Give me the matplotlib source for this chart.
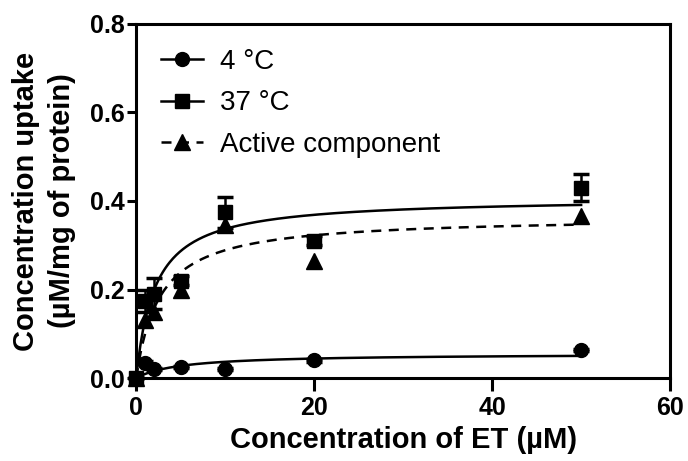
import matplotlib
matplotlib.use("Agg")
import matplotlib.pyplot as plt
import numpy as np

plt.rcParams['font.family'] = ['Liberation Sans', 'DejaVu Sans']

# measured points
conc = [0, 1, 2, 5, 10, 20, 50]
uptake_4 = [0.0, 0.035, 0.02, 0.025, 0.02, 0.04, 0.063]
err_4 = [0.0, 0.004, 0.003, 0.003, 0.003, 0.003, 0.003]
uptake_37 = [0.0, 0.175, 0.19, 0.22, 0.375, 0.31, 0.43]
err_37 = [0.0, 0.025, 0.035, 0.01, 0.035, 0.01, 0.03]
uptake_act = [0.0, 0.13, 0.15, 0.20, 0.345, 0.265, 0.367]

# fitted Michaelis-Menten parameters (Vmax, Km)
fit_4 = (0.055, 5.0)
fit_37 = (0.4075, 2.1)
fit_act = (0.365, 2.64)


def mm(x, p):
    return p[0] * x / (p[1] + x)


xs = np.linspace(0, 50, 400)

fig = plt.figure(figsize=(6.88, 4.61), dpi=100)
ax = fig.add_axes([0.198, 0.18, 0.776, 0.768])

ax.plot(xs, mm(xs, fit_4), 'k-', lw=1.8)
ax.plot(xs, mm(xs, fit_37), 'k-', lw=1.8)
ax.plot(xs, mm(xs, fit_act), 'k--', lw=1.8, dashes=(4, 3))

ax.errorbar(conc, uptake_4, yerr=err_4, fmt='o', color='k', ms=10,
            capsize=6, elinewidth=1.8, capthick=2.5, clip_on=False, zorder=4)
ax.errorbar(conc, uptake_37, yerr=err_37, fmt='s', color='k', ms=10,
            capsize=6, elinewidth=1.8, capthick=2.5, clip_on=False, zorder=4)
ax.plot(conc, uptake_act, '^', color='k', ms=11, clip_on=False, zorder=4)

# legend handles
h1, = ax.plot([], [], 'k-o', lw=1.8, ms=10)
h2, = ax.plot([], [], 'k-s', lw=1.8, ms=10)
h3, = ax.plot([], [], 'k--^', lw=1.8, ms=11, dashes=(4, 3))
ax.legend([h1, h2, h3], ['4 °C', '37 °C', 'Active component'],
          loc='upper left', frameon=False, fontsize=20, handlelength=1.5,
          labelspacing=0.55, borderaxespad=0.5, handletextpad=0.6)

ax.set_xlim(0, 60)
ax.set_ylim(0, 0.8)
ax.set_xticks([0, 20, 40, 60])
ax.set_yticks([0.0, 0.2, 0.4, 0.6, 0.8])
ax.set_yticklabels(['0.0', '0.2', '0.4', '0.6', '0.8'])

for s in ax.spines.values():
    s.set_linewidth(2.2)
ax.tick_params(axis='x', length=9, width=2.2, pad=4, labelsize=18)
ax.tick_params(axis='y', length=6.5, width=2.2, pad=2, labelsize=18)
for lab in ax.get_xticklabels() + ax.get_yticklabels():
    lab.set_fontweight('bold')

ax.set_xlabel('Concentration of ET (µM)', fontsize=21, fontweight='bold', labelpad=4)
ax.set_ylabel('Concentration uptake\n(µM/mg of protein)', fontsize=21,
              fontweight='bold', linespacing=1.4)
ax.yaxis.set_label_coords(-0.112, 0.5)

fig.savefig('out.png', dpi=100)
